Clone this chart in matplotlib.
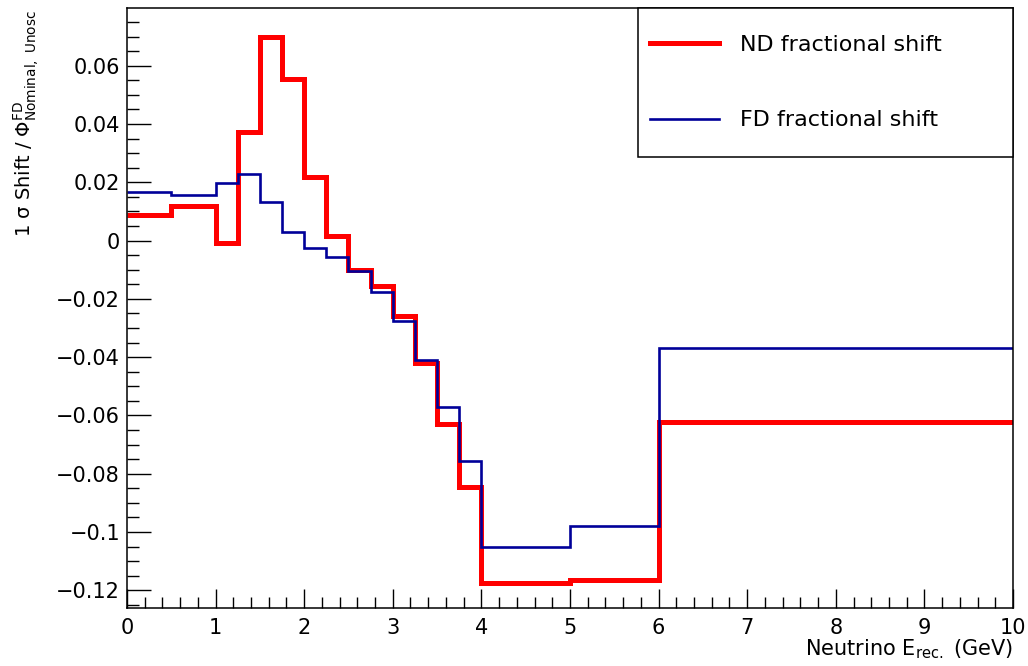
import matplotlib
matplotlib.use("Agg")
import matplotlib.pyplot as plt
from matplotlib.ticker import MultipleLocator, FuncFormatter
from matplotlib.patches import Rectangle

# bin edges in reconstructed neutrino energy (GeV)
edges = [0, 0.5, 1, 1.25, 1.5, 1.75, 2, 2.25, 2.5, 2.75, 3, 3.25, 3.5, 3.75, 4, 5, 6, 10]

nd_shift = [0.0087, 0.0118, -0.0010, 0.0373, 0.0697, 0.0555, 0.0219, 0.0015, -0.0100,
            -0.0155, -0.0260, -0.0420, -0.0630, -0.0845, -0.1176, -0.1166, -0.0622]
fd_shift = [0.0165, 0.0156, 0.0198, 0.0227, 0.0133, 0.0030, -0.0025, -0.0058, -0.0106,
            -0.0175, -0.0275, -0.0410, -0.0570, -0.0755, -0.1050, -0.0980, -0.0368]

labels = ["ND fractional shift", "FD fractional shift"]


def fmt_y(v, pos):
    s = "%g" % round(v, 4)
    return s.replace("-", "\u2212")


def plot_shifts():
    fig = plt.figure(figsize=(10.28, 6.66), dpi=100)
    ax = fig.add_axes([0.1235, 0.0871, 0.8619, 0.9009])

    ax.stairs(nd_shift, edges, color="#ff0000", lw=3.6, label=labels[0], baseline=None)
    ax.stairs(fd_shift, edges, color="#000099", lw=1.9, label=labels[1], baseline=None)

    ax.set_xlim(0, 10)
    ax.set_ylim(-0.1261, 0.0798)

    ax.xaxis.set_major_locator(MultipleLocator(1))
    ax.xaxis.set_minor_locator(MultipleLocator(0.2))
    ax.yaxis.set_major_locator(MultipleLocator(0.02))
    ax.yaxis.set_minor_locator(MultipleLocator(0.005))
    ax.yaxis.set_major_formatter(FuncFormatter(fmt_y))

    ax.tick_params(axis="both", which="both", direction="in", width=1.0, labelsize=15)
    ax.tick_params(axis="x", which="major", length=13.5, pad=7)
    ax.tick_params(axis="x", which="minor", length=8)
    ax.tick_params(axis="y", which="major", length=17, pad=5)
    ax.tick_params(axis="y", which="minor", length=8.5)
    for sp in ax.spines.values():
        sp.set_linewidth(1.1)

    ax.set_xlabel("Neutrino E$_{\\mathregular{rec.}}$ (GeV)", fontsize=15, loc="right", labelpad=0)
    fig.text(0.026, 0.985, "1 $\\mathregular{\\sigma}$ Shift / $\\mathregular{\\Phi^{FD}_{Nominal,\\ Unosc}}$",
             rotation=90, ha="center", va="top", fontsize=14)

    # legend box
    box = Rectangle((0.577, 0.752), 0.423, 0.248, transform=ax.transAxes, facecolor="white",
                    edgecolor="black", lw=1.1, zorder=4, clip_on=False)
    ax.add_patch(box)
    leg = ax.legend(loc="upper left", bbox_to_anchor=(0.58, 0.97), frameon=False, fontsize=16,
                    handlelength=3.1, handletextpad=0.95, labelspacing=2.5, borderaxespad=0)
    leg.set_zorder(5)

    fig.savefig("out.png", dpi=100)


if __name__ == "__main__":
    plot_shifts()
